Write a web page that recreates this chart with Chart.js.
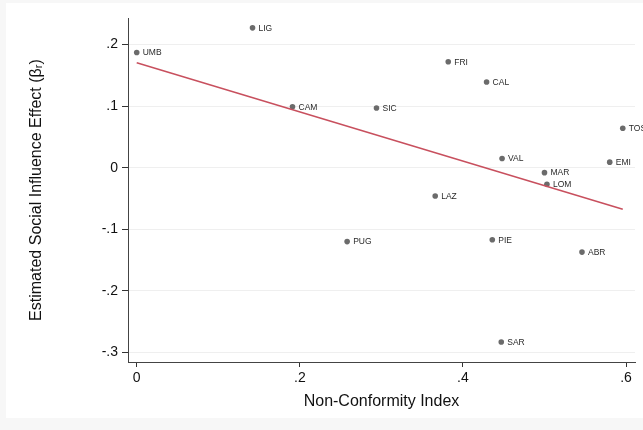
<!DOCTYPE html>
<html>
<head>
<meta charset="utf-8">
<script src="https://cdn.jsdelivr.net/npm/chart.js@4/dist/chart.umd.min.js"></script>
<style>
  html, body { margin: 0; padding: 0; background: #f7f7f7; }
  #sheet { position: absolute; left: 6px; top: 3px; width: 637px; height: 415px; background: #ffffff; }
  #wrap { position: absolute; left: 0; top: 0; width: 643px; height: 430px; }
</style>
</head>
<body>
<div id="sheet"></div>
<div id="wrap"><canvas id="c" width="643" height="430"></canvas></div>
<script>
// Regions and their values
const regions = ['UMB', 'LIG', 'CAM', 'SIC', 'FRI', 'CAL', 'TOS', 'VAL', 'EMI', 'MAR', 'LOM', 'LAZ', 'PUG', 'PIE', 'ABR', 'SAR'];
const nonConformity = [0.000, 0.142, 0.191, 0.294, 0.382, 0.429, 0.596, 0.448, 0.580, 0.500, 0.503, 0.366, 0.258, 0.436, 0.546, 0.447];
const socialEffect = [0.187, 0.227, 0.099, 0.097, 0.172, 0.139, 0.064, 0.015, 0.009, -0.008, -0.027, -0.046, -0.120, -0.117, -0.137, -0.283];

// Linear fit endpoints
const fitX = [0.000, 0.596];
const fitY = [0.1705, -0.0675];

// Axis ticks
const xTicks = [0, 0.2, 0.4, 0.6];
const xTickLabels = ['0', '.2', '.4', '.6'];
const yTicks = [-0.3, -0.2, -0.1, 0, 0.1, 0.2];
const yTickLabels = ['-.3', '-.2', '-.1', '0', '.1', '.2'];

const FONT = '"Liberation Sans", Arial, Helvetica, sans-serif';

const pointLabels = {
  id: 'pointLabels',
  afterDatasetsDraw(chart) {
    const meta = chart.getDatasetMeta(1);
    const ctx = chart.ctx;
    ctx.save();
    ctx.font = '8.5px ' + FONT;
    ctx.fillStyle = '#2a2a2a';
    ctx.textAlign = 'left';
    ctx.textBaseline = 'middle';
    meta.data.forEach((pt, i) => {
      ctx.fillText(regions[i], pt.x + 6, pt.y + 0.5);
    });
    ctx.restore();
  }
};

new Chart(document.getElementById('c'), {
  type: 'scatter',
  data: {
    datasets: [
      {
        label: 'Fitted values',
        data: fitX.map((x, i) => ({ x: x, y: fitY[i] })),
        showLine: true,
        borderColor: '#c8505e',
        borderWidth: 1.5,
        pointRadius: 0,
        pointHoverRadius: 0
      },
      {
        label: 'Regions',
        data: nonConformity.map((x, i) => ({ x: x, y: socialEffect[i] })),
        backgroundColor: '#6b6b6b',
        borderColor: '#6b6b6b',
        borderWidth: 0,
        pointRadius: 2.8
      }
    ]
  },
  options: {
    responsive: false,
    animation: false,
    devicePixelRatio: 1,
    layout: { padding: { top: 18, right: 8, left: 0, bottom: 0 } },
    plugins: { legend: { display: false }, tooltip: { enabled: false } },
    scales: {
      x: {
        type: 'linear',
        min: -0.0107,
        max: 0.611,
        afterBuildTicks: s => { s.ticks = xTicks.map(v => ({ value: v })); },
        afterFit: s => { s.height = 68; },
        grid: { drawOnChartArea: false, drawTicks: true, tickLength: 5, tickColor: '#333333', tickWidth: 1 },
        border: { color: '#444444', width: 1 },
        ticks: {
          padding: 3,
          color: '#111111',
          font: { family: FONT, size: 14 },
          maxRotation: 0,
          autoSkip: false,
          callback: v => xTickLabels[xTicks.indexOf(v)]
        },
        title: {
          display: true,
          text: 'Non-Conformity Index',
          color: '#111111',
          font: { family: FONT, size: 16 },
          padding: { top: 0, bottom: 19 }
        }
      },
      y: {
        type: 'linear',
        min: -0.3154,
        max: 0.243,
        afterBuildTicks: s => { s.ticks = yTicks.map(v => ({ value: v })); },
        afterFit: s => { s.width = 128; },
        grid: { color: '#efefef', lineWidth: 1, drawTicks: true, tickLength: 6, tickColor: '#333333', tickWidth: 1 },
        border: { color: '#444444', width: 1 },
        ticks: {
          padding: 4,
          color: '#111111',
          font: { family: FONT, size: 14 },
          autoSkip: false,
          callback: v => yTickLabels[yTicks.indexOf(v)]
        },
        title: {
          display: true,
          text: 'Estimated Social Influence Effect (βᵣ)',
          color: '#111111',
          font: { family: FONT, size: 16 },
          padding: { top: 27, bottom: 0 }
        }
      }
    }
  },
  plugins: [pointLabels]
});
</script>
</body>
</html>
